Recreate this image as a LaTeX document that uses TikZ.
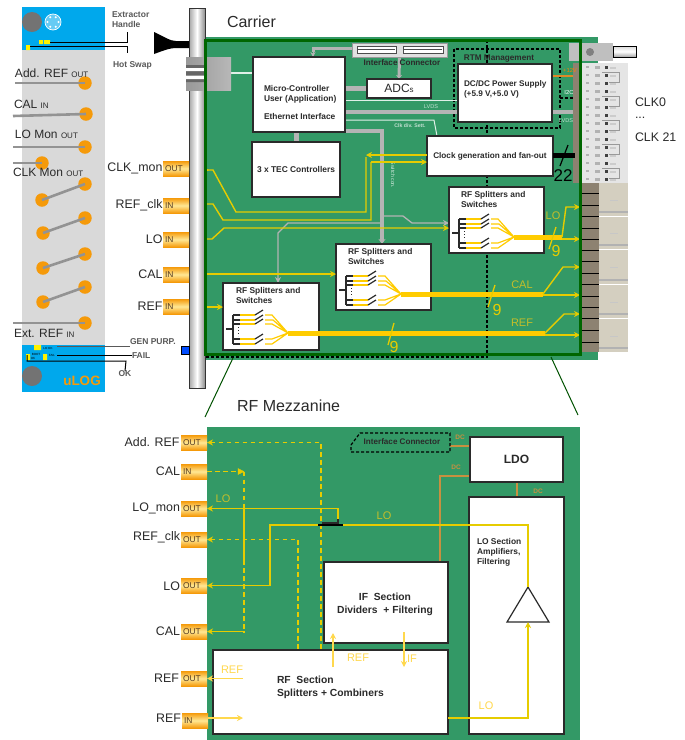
\documentclass[tikz,border=0pt]{standalone}
\usepackage{fontspec}
\setmainfont{Liberation Sans}
\usetikzlibrary{arrows.meta,calc}
\definecolor{pcb}{HTML}{339966}
\definecolor{frame}{HTML}{006600}
\definecolor{sky}{HTML}{00A8EC}
\definecolor{pad}{HTML}{F59A0A}
\definecolor{wire}{HTML}{E6CC00}
\definecolor{fat}{HTML}{FFCC00}
\definecolor{pale}{HTML}{FFD84D}
\definecolor{olive}{HTML}{C4BE2A}
\definecolor{ggr}{HTML}{B4B4B4}
\definecolor{dc}{HTML}{C89040}
\definecolor{ink}{HTML}{2A2A2A}
\definecolor{tan}{HTML}{8D8271}
\definecolor{blk}{HTML}{D4CFC0}
\newcommand{\fz}[1]{\fontsize{#1}{#1}\selectfont}
\newcommand{\fl}[2]{\fontsize{#1}{#2}\selectfont}
\pgfdeclarelayer{plate}
\pgfdeclarelayer{wires}
\pgfsetlayers{plate,wires,main}
\tikzset{
 x=1pt,y=-1pt,
 every node/.style={inner sep=0pt,outer sep=0pt},
 box/.style={draw=ink,fill=white,line width=1.2pt,anchor=north west},
 boldtxt/.style={font=\bfseries,text=ink,align=left},
 sidetxt/.style={anchor=west,align=left,text=gray!70!black},
 lab/.style={text=ink,anchor=east,font=\fz{12.4}},
 tagbox/.style={anchor=north west,top color=pad,bottom color=pad,middle color=pale!60!white,
   minimum height=15pt,minimum width=26pt,inner xsep=2pt,text width=22pt,align=left,font=\fz{8.4},text=ink!80!orange},
 padnode/.style={circle,fill=pad,minimum size=13.5pt},
 barg/.style={draw=gray!85,line width=2.6pt},
 ywire/.style={draw=wire,line width=1.4pt},
 yarrow/.style={ywire,-{Stealth[length=6pt,width=6pt]}},
 ydash/.style={ywire,dash pattern=on 4.5pt off 3.5pt},
 yfat/.style={draw=fat,line width=5pt},
 thin gray/.style={draw=ggr,line width=1.3pt},
 fat gray/.style={draw=ggr,line width=4.5pt},
 bdash/.style={draw=black,line width=1.2pt,dash pattern=on 3pt off 2pt},
 dcwire/.style={draw=dc,line width=1.4pt},
 palearrow/.style={draw=pale,line width=1.3pt,-{Stealth[length=6pt,width=6pt]}},
 inpad/.style={draw=wire,line width=1.4pt,{Stealth[length=6pt,width=6pt]}-},
}
\newcommand{\splitter}[2]{%
 \begin{scope}[shift={(#1,#2)}]
  \draw[ink,line width=1.2pt] (3,46)--(10,46) (10,32)--(10,61);
  \foreach \r in {32,37,41,56,61}{
   \draw[ink,line width=1.2pt] (10,\r)--(17,\r);
   \draw[fat,line width=1.2pt] (17,\r)--(32,\r);
   \draw[ink,line width=1.2pt] (32,\r)--(40,\r-5);
  }
  \draw[ink,line width=1pt,dotted] (15,44)--(15,53);
  \draw[fat,line width=1.2pt] (42,32)--(49,32)--(65,50) (42,37)--(50,37)--(65,50) (42,41)--(49,41)--(65,50)
     (42,56)--(49,56)--(65,50) (42,61)--(49,61)--(65,50);
 \end{scope}}
\begin{document}
\begin{tikzpicture}
\useasboundingbox (0,0) rectangle (685,740);
\begin{pgfonlayer}{plate}
\fill[white] (0,0) rectangle (685,740);
\fill[pcb] (205,37) rectangle (598,360);
\fill[pcb] (207,427) rectangle (580,740);
\end{pgfonlayer}
\foreach \v in {73,76,100,120,131,155,162,223,228,274,307,446,476,718}{\coordinate (y\v) at (0,\v);}
\foreach \v in {278,313,382,440,517}{\coordinate (x\v) at (\v,0);}

% ---------- front panel ----------
\fill[black!15] (22,50) rectangle (105,345);
\fill[sky] (22,7) rectangle (105,50);
\fill[sky] (22,345) rectangle (105,392);
\node[circle,fill=gray!90!black,minimum size=20pt] (screwA) at (32,22) {};
\node[circle,fill=gray!90!black,minimum size=20pt] (screwB) at (32,376) {};
\node[circle,draw=white,line width=.7pt,fill=white!40!sky,minimum size=16pt] (usb) at (53,22) {};
\foreach \a in {0,60,...,300}{\fill[white] ($(usb)+(\a:5.5)$) circle (1.2);}
\node[text=pad,font=\bfseries\fz{13.5}] (ulog) at (82,381) {uLOG};
\fill[yellow] (39,40) rectangle (43,44) (44,40) rectangle (50,44) (26,45) rectangle (30,50);
\fill[yellow] (34,345) rectangle (41,350) (43,354) rectangle (47,360) (26,354) rectangle (30,360);
\node[font=\fz{3},text=black] (tlo) at (48,348) {LO OK};
\node[font=\fz{3},text=black] (tbo) at (36,354) {BOOT};
\node[font=\fz{3},text=black] (tfa) at (52,355) {FAIL};
\node[font=\fz{3},text=black] (tok) at (33,358) {OK};
\foreach \n/\x/\y in {a/85/83,b/86/114,c/85/147,d/42/163,e1/42/200,e2/85/184,f1/43/233,f2/85/218,g1/43/268,g2/85/254,h1/43/302,h2/85/287,i/85/323}
  \node[padnode] (p\n) at (\x,\y) {};
\coordinate (qa) at (15,83); \coordinate (qb) at (13,116); \coordinate (qc) at (13,147);
\coordinate (qd) at (13,163); \coordinate (qi) at (13,323);
\draw[barg] (qa)--(pa.center); \draw[barg] (qb)--(pb.center); \draw[barg] (qc)--(pc.center);
\draw[barg] (qd)--(pd.center); \draw[barg] (qi)--(pi.center);
\draw[barg] (pe1.center)--(pe2.center); \draw[barg] (pf1.center)--(pf2.center);
\draw[barg] (pg1.center)--(pg2.center); \draw[barg] (ph1.center)--(ph2.center);
\node[anchor=west,text=ink,font=\fz{12}] (ta) at (15,73) {Add. REF {\fz{8}OUT}};
\node[anchor=west,text=ink,font=\fz{12}] (tb) at (14,104) {CAL {\fz{8}IN}};
\node[anchor=west,text=ink,font=\fz{12}] (tc) at (15,134) {LO Mon {\fz{8}OUT}};
\node[anchor=west,text=ink,font=\fz{12}] (td) at (13,172) {CLK Mon {\fz{8}OUT}};
\node[anchor=west,text=ink,font=\fz{12}] (ti) at (14,333) {Ext. REF {\fz{8}IN}};

% handle and side labels
\node[sidetxt,font=\bfseries\fl{8.5}{10}] (ext) at (112,20) {Extractor\\Handle};
\node[sidetxt,font=\bfseries\fz{8.5}] (hot) at (113,65) {Hot Swap};
\coordinate (s1) at (50,42); \coordinate (s1e) at (127,32);
\coordinate (s2) at (30,46); \coordinate (s2e) at (127,53);
\draw[black,line width=1pt] (s1)-|(s1e);
\draw[black,line width=1pt] (s2)-|(s2e);
\fill[black] (154,32) .. controls (165,37) and (170,41) .. (176,41) -- (190,41) -- (190,48) -- (176,48) .. controls (170,48) and (165,50) .. (154,54) -- cycle;
\node[sidetxt,font=\bfseries\fz{8.5}] (gp) at (130,342) {GEN PURP.};
\node[sidetxt,font=\bfseries\fz{8.5}] (fl) at (132,356) {FAIL};
\node[sidetxt,anchor=center,font=\bfseries\fz{8.5}] (okk) at (125,374) {OK};
\coordinate (g0) at (57,346); \coordinate (f0) at (57,355); \coordinate (k0) at (27,355);
\draw[gray!70!black,line width=1pt] (g0)--(gp.west|-g0);
\draw[black,line width=1pt] (f0)--(fl.west|-f0);
\draw[black,line width=1pt] (k0)--(27,361)--(126,361)--(okk.north);

% rear connector strip
\fill[black!10] (581,63) rectangle (628,183);
\fill[tan] (573,63) rectangle (581,183);
\foreach \y in {66,74,...,178}{
  \fill[black!30] (586,\y) rectangle (589,\y+2);
  \fill[black!30] (595,\y) rectangle (600,\y+3);
  \fill[black!75] (605,\y) rectangle (608,\y+3);
  \fill[black!20] (610,\y+1) rectangle (616,\y+3);
}
\foreach \y in {72,96,...,168}{
  \draw[black!40,line width=.5pt] (602,\y)--(619,\y)--(619,\y+10)--(609,\y+10);
}
\fill[tan] (581,183) rectangle (599,352);
\foreach \y in {193,205,216,228,239,250,261,273,284,296,307,318,330,342}
  \draw[black,line width=1pt] (581,\y)--(599,\y);
\foreach \a/\b in {183/216,217/249,250/284,285/318,319/352}{
  \fill[blk] (599,\a) rectangle (628,\b);
  \fill[black!30] (599,\b-5) rectangle (628,\b-3);
  \fill[black!22] (610,{(\a+\b)/2}) rectangle (618,{(\a+\b)/2+1});
}
% top right bolt
\fill[black!25] (569,43) rectangle (613,61);
\fill[black!50] (590,52) circle (4);
\draw[black,line width=1pt,top color=black!15,bottom color=black!35,middle color=white] (613,46) rectangle (636,57);
% front panel bar
\draw[black!80,line width=1pt,left color=black!35,right color=black!45,middle color=white] (189,8) rectangle (205,388);
\node[draw=black,line width=.8pt,fill=blue!70!cyan,minimum size=8pt,anchor=north west] (gpled) at (181,346) {};

% dark frame
\coordinate (frameA) at (205,40);
\coordinate (frameB) at (580,354);

% boxes
\node[box,minimum width=92pt,minimum height=75pt] (mc) at (253,57) {};
\node[box,minimum width=88pt,minimum height=55pt] (tec) at (252,142) {};
\node[box,minimum width=64pt,minimum height=19pt] (adc) at (367,79) {};
\node[box,minimum width=94pt,minimum height=58pt] (dcdc) at (458,64) {};
\node[box,minimum width=126pt,minimum height=40pt] (clk) at (427,136) {};
\node[box,minimum width=95pt,minimum height=66pt] (rf1) at (449,187) {};
\node[box,minimum width=95pt,minimum height=66pt] (rf2) at (336,244) {};
\node[box,minimum width=96pt,minimum height=67pt] (rf3) at (223,283) {};

\node[boldtxt,anchor=north west,font=\bfseries\fl{8.4}{10}] (mctxt) at (264,85) {Micro-Controller\\User (Application)\\[8.6pt]Ethernet Interface};
\node[boldtxt,font=\bfseries\fz{8.4}] (tectxt) at (tec.center) {3 x TEC Controllers};
\node[text=ink,font=\fz{12}] (adctxt) at (adc.center) {ADC{\fz{8}s}};
\node[boldtxt,anchor=north west,font=\bfseries\fl{8.2}{10}] (dctxt) at (464,81) {DC/DC Power Supply\\(+5.9 V,+5.0 V)};
\node[boldtxt,font=\bfseries\fz{8.2}] (clktxt) at (clk.center) {Clock generation and fan-out};
\foreach \n/\x/\y in {rf1/461/191,rf2/348/248,rf3/236/287}
  \node[boldtxt,anchor=north west,font=\bfseries\fl{8.4}{10}] (\n txt) at (\x,\y) {RF Splitters and\\Switches};
\node[boldtxt,font=\bfseries\fz{8.2}] (rtmtxt) at (499,59) {RTM Management};
\node[boldtxt,font=\bfseries\fz{8.1}] (ifc) at (402,63) {Interface Connector};
\node[text=ink,anchor=west,font=\fz{16}] (car) at (227,22) {Carrier};
\node[text=ink,anchor=west,font=\fz{16}] (mez) at (237,406) {RF Mezzanine};
\node[text=ink,anchor=west,font=\fz{12.4}] (c0) at (635,102) {CLK0};
\node[text=ink,anchor=west,font=\fz{12.4}] (cd) at (635,118) {...};
\node[text=ink,anchor=west,font=\fz{12.4}] (c21) at (635,137) {CLK 21};

% interface connector
\node[draw=black!40,fill=black!12,line width=.6pt,minimum width=95pt,minimum height=14pt,anchor=north west] (conn) at (352,43) {};
\draw[black!70,fill=white,line width=.6pt] (357,46) rectangle (396,53) (403,46) rectangle (443,53);
\draw[black!70,line width=.5pt] (358,49.5)--(395,49.5) (404,49.5)--(442,49.5);

% RJ45
\node[left color=black!40,right color=black!28,minimum width=45pt,minimum height=33pt,anchor=north west] (rj) at (186,57) {};
\fill[black!60] (186,65) rectangle (204,68) (186,71) rectangle (204,75) (186,79) rectangle (204,82);
\fill[white] (186,68) rectangle (204,71) (186,76) rectangle (204,79);

\begin{pgfonlayer}{wires}
 \coordinate (dtop) at (487,40);
 \coordinate (dbot) at (487,357);
 \coordinate (dleft) at (205,357);
 \draw[bdash] (dtop)--(dbot)--(dleft);
 \draw[bdash] (454,49) rectangle (560,128);
 \coordinate (i2c) at (573,98);
 \draw[bdash] (560,98)--(i2c);
 \coordinate (lv) at (573,112);
 \draw[fat gray] (mc.east|-lv)--(lv);
 \draw[fat gray] (mc.east|-adc.west)--(adc.west);
 \draw[fat gray,line width=5pt] (tec.north|-mc.south)--(tec.north);
 \draw[ggr,-{Stealth[length=4pt,width=6pt]},line width=3pt] (conn.south)--(adc.north);
 \coordinate (c48) at (352,48);
 \draw[ggr,line width=3pt] (c48)-|(313,52);
 \draw[ggr,line width=1pt,-{Stealth[length=5pt,width=5pt]}] (313,50)--(x313|-mc.north);
 \draw[white!85!pcb,line width=1pt] (mc.east|-y100)--(dcdc.west|-y100);
 \draw[white!85!pcb,line width=1pt] (mc.east|-y120)--(434,120)--(437,136);
 \draw[white!85!pcb,line width=1.2pt] (rj.east|-y73)--(mc.west|-y73);
 \draw[dc!60!orange,line width=1.2pt] (dcdc.east|-y76)--(573,76);
 \draw[fat gray,-{Stealth[length=5pt,width=7pt]}] (mc.east|-y131)-|(x382|-rf2.north);
 \coordinate (v1) at (382,216);
 \draw[thin gray,-{Stealth[length=6pt,width=6pt]}] (v1)--(403,216)--(412,223)--(rf1.west|-y223);
 \draw[thin gray,-{Stealth[length=6pt,width=6pt]}] (382,223)--(288,223)--(278,233)--(x278|-rf3.north);
\end{pgfonlayer}

\node[font=\fz{5.6},text=white!70!pcb] (lv1) at (431,107) {LVDS};
\node[font=\fz{5.6},text=white!70!pcb] (lv2) at (566,121) {LVDS};
\node[font=\bfseries\fz{5.2},text=white!70!pcb] (clkd) at (410,126) {Clk div. Sett.};
\node[font=\fz{5.2},text=white!80!pcb,rotate=-90] (swc) at (393,175) {Switch con.};
\node[font=\fz{5.8},text=orange] (v12) at (570,70) {+12V};
\node[font=\fz{5.8},text=white] (i2ct) at (569,92) {I2C};

% left tags carrier
\node[tagbox] (tClk) at (163,161) {OUT};
\node[tagbox] (tRc) at (163,198) {IN};
\node[tagbox] (tLo) at (163,232) {IN};
\node[tagbox] (tCal) at (163,267) {IN};
\node[tagbox] (tRef) at (163,299) {IN};
\node[lab] (lClk) at (162.5,168) {CLK\_mon};
\node[lab] (lRc) at (162.5,205) {REF\_clk};
\node[lab] (lLo) at (162.5,239) {LO};
\node[lab] (lCal) at (162.5,274) {CAL};
\node[lab] (lRef) at (162.5,306) {REF};

% yellow carrier wires
\coordinate (eClk) at (205,170); \coordinate (eRc) at (207,204); \coordinate (eLo) at (207,239);
\coordinate (eCal) at (207,274); \coordinate (eRef) at (207,307);
\draw[ywire] (eClk)--(213,170)--(236,212)--(366,212)--(366,157);
\draw[yarrow] (clk.west|-y155)--(366,155);
\draw[ywire] (eRc)--(213,204)--(223,220)--(371,220)--(371,162);
\draw[yarrow] (371,162)--(clk.west|-y162);
\draw[yarrow] (eLo)--(212,239)--(224,228)--(rf1.west|-y228);
\draw[yarrow] (eCal)--(rf2.west|-y274);
\draw[yarrow] (eRef)--(rf3.west|-y307);
\fill[wire] (205,168) -- (209,170) -- (205,172) -- cycle;

% splitters and trunks
\splitter{449}{187}
\splitter{336}{244}
\splitter{223}{283}
\coordinate (n1) at (514,237); \coordinate (m1) at (562,237);
\coordinate (n2) at (401,294); \coordinate (m2) at (543,294);
\coordinate (n3) at (288,333); \coordinate (m3) at (545,333);
\draw[yfat] (n1)--(m1);
\draw[yfat] (n2)--(m2);
\draw[yfat] (n3)--(m3);
\coordinate (o1a) at (580,207); \coordinate (o1b) at (580,239);
\coordinate (o2a) at (580,267); \coordinate (o2b) at (580,295);
\coordinate (o3a) at (580,314); \coordinate (o3b) at (580,335);
\draw[yarrow] (m1)--(566,207)--(o1a); \draw[yarrow] (m1)++(0,2)--(o1b);
\draw[yarrow] (m2)--(563,267)--(o2a); \draw[yarrow] (m2)++(0,1)--(o2b);
\draw[yarrow] (m3)--(564,314)--(o3a); \draw[yarrow] (m3)++(0,2)--(o3b);
\draw[wire,line width=1.3pt] (556,227)--(549,249) (495,285)--(488,307) (394,323)--(388,345);
\node[text=wire,font=\fz{16}] (nine1) at (556,251) {9};
\node[text=wire,font=\fz{16}] (nine2) at (497,310) {9};
\node[text=wire,font=\fz{16}] (nine3) at (394,347) {9};
\node[text=olive,font=\fz{11}] (lLo2) at (553,216) {LO};
\node[text=olive,font=\fz{11}] (lCal2) at (522,285) {CAL};
\node[text=olive,font=\fz{11}] (lRef2) at (522,323) {REF};

% clock out
\coordinate (bus) at (575,155);
\draw[black,line width=5pt] (clk.east|-bus)--(bus);
\draw[black,line width=1.2pt] (568,145)--(560,166);
\node[text=black,font=\fz{17}] (n22) at (563,176) {22};

% frame over everything on board
\draw[frame,line width=3pt] (frameA) rectangle (frameB);
\coordinate (zl1) at (233,358); \coordinate (zl2) at (205,417);
\coordinate (zr1) at (551,357); \coordinate (zr2) at (578,415);
\draw[frame!80!black,line width=1pt] (zl1)--(zl2);
\draw[frame!80!black,line width=1pt] (zr1)--(zr2);

% ---------- mezzanine ----------
\node[box,minimum width=93pt,minimum height=45pt] (ldo) at (470,437) {};
\node[box,minimum width=95pt,minimum height=237pt] (los) at (469,497) {};
\node[box,minimum width=124pt,minimum height=81pt] (ifb) at (324,562) {};
\node[box,minimum width=235pt,minimum height=84pt] (rfb) at (213,650) {};
\node[boldtxt,font=\bfseries\fz{12}] (ldot) at (ldo.center) {LDO};
\node[boldtxt,anchor=north west,font=\bfseries\fl{8.4}{10}] (lot) at (477,538) {LO Section\\Amplifiers,\\Filtering};
\node[boldtxt,align=center,font=\bfseries\fl{10.3}{13}] (ift) at (385,604) {IF\ \ Section\\Dividers\ \ + Filtering};
\node[boldtxt,anchor=north west,font=\bfseries\fl{10.3}{13}] (rft) at (277,676) {RF\ \ Section\\Splitters\ + Combiners};
\coordinate (ta1) at (528,587); \coordinate (ta2) at (507,622); \coordinate (ta3) at (549,622);
\draw[ink,line width=1.2pt,fill=white] (ta1)--(ta2)--(ta3)--cycle;

% interface connector (mezz.)
\draw[bdash,line width=1.2pt] (351,445)--(360,433)--(450,433)--(450,452)--(351,452)--cycle;
\node[boldtxt,font=\bfseries\fz{8.1}] (ifm) at (402,442) {Interface Connector};

% tags
\node[tagbox] (mA) at (181,435) {OUT};
\node[tagbox] (mB) at (181,464) {IN};
\node[tagbox] (mC) at (181,501) {OUT};
\node[tagbox] (mD) at (181,532) {OUT};
\node[tagbox] (mE) at (181,578) {OUT};
\node[tagbox] (mF) at (181,624) {OUT};
\node[tagbox] (mG) at (181,671) {OUT};
\node[tagbox] (mH) at (182,713) {IN};
\node[lab] (lA) at (179.5,442) {Add. REF};
\node[lab] (lB) at (180,471) {CAL};
\node[lab] (lC) at (180,508) {LO\_mon};
\node[lab] (lD) at (180,537) {REF\_clk};
\node[lab] (lE) at (180,586) {LO};
\node[lab] (lF) at (180,631) {CAL};
\node[lab] (lG) at (179,678) {REF};
\node[lab] (lH) at (181,718) {REF};

% mezz. wires
\coordinate (addv) at (321,650);
\coordinate (refv) at (298,650);
\coordinate (calv) at (244,632);
\coordinate (calt) at (244,471.5);
\coordinate (coupL) at (318,525);
\coordinate (coupR) at (343,525);
\coordinate (mon2) at (338,519);
\coordinate (coup0) at (322,523);
\begin{pgfonlayer}{wires}
\draw[ydash,{Stealth[length=6pt,width=6pt]}-] (mA.east)-|(addv);
\draw[ydash,{Stealth[length=6pt,width=6pt]}-] (mD.east)-|(refv);
\draw[dcwire] (450,446)--(ldo.west|-y446);
\draw[dcwire] (ldo.west|-y476)-|(x440|-ifb.north);
\draw[dcwire] (x517|-ldo.south)--(x517|-los.north);
\end{pgfonlayer}
\draw[ydash] (mB.east)--(calt);
\draw[wire,fill=wire] (238,468.5)--(244,471.5)--(238,474.5)--cycle;
\draw[ydash] (calt)--(244,508);
\draw[ywire] (244,508)--(244,560);
\draw[ydash] (244,560)--(calv);
\draw[inpad] (mF.east)-|(calv);
\draw[inpad] (mC.east)-|(mon2);
\draw[ink,line width=1.4pt] (coup0)--(338,523)--(mon2);
\draw[black,line width=1.4pt] (coupL)--(coupR);
\draw[inpad] (mE.east)-|(270,525)--(coupL);
\draw[ywire] (coupR)-|(ta1);
\draw[ywire,-{Stealth[length=6pt,width=6pt]}] (rfb.east|-y718)-|(ta1|-ta2);
\draw[palearrow] (243,678.5)--(mG.east);
\draw[palearrow] (mH.east|-y718)--(243,718);
\draw[palearrow] (333,667)--(333,633);
\draw[palearrow] (404,632)--(404,667);

\node[text=olive,font=\fz{11}] (mLo1) at (223,499) {LO};
\node[text=olive,font=\fz{11}] (mLo2) at (384,516) {LO};
\node[text=pale,font=\fz{11}] (mLo3) at (486,706) {LO};
\node[text=pale,font=\fz{11}] (mRef1) at (232,670) {REF};
\node[text=pale,font=\fz{11}] (mRef2) at (358,658) {REF};
\node[text=pale,font=\fz{11}] (mIf) at (412,659) {IF};
\node[text=dc,font=\bfseries\fz{6.5}] (dc1) at (460,437) {DC};
\node[text=dc,font=\bfseries\fz{6.5}] (dc2) at (456,467) {DC};
\node[text=dc,font=\bfseries\fz{6.5}] (dc3) at (538,491) {DC};
\end{tikzpicture}
\end{document}
